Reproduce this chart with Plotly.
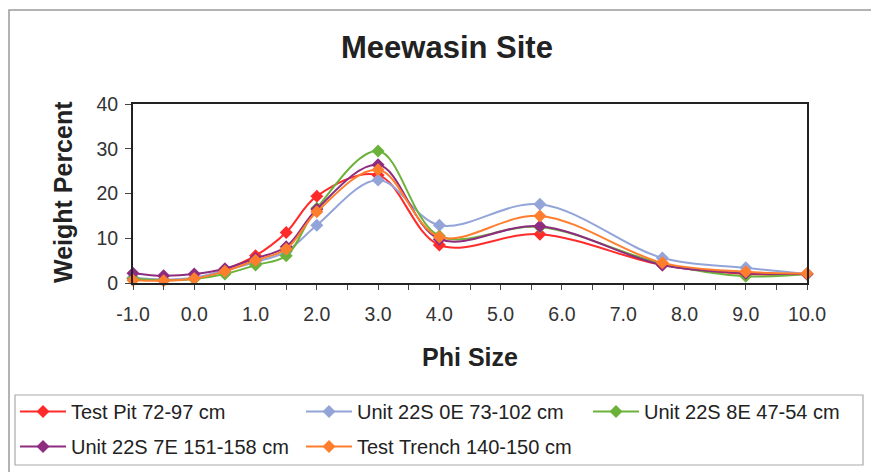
import plotly.graph_objects as go

phi = [-1.0, -0.5, 0.0, 0.5, 1.0, 1.5, 2.0, 3.0, 4.0, 5.64, 7.64, 9.0, 10.0]
test_pit = [1.0, 0.7, 1.0, 3.0, 6.1, 11.3, 19.4, 24.1, 8.5, 10.9, 4.0, 2.0, 2.0]
unit_0e = [1.2, 0.8, 1.2, 2.8, 4.7, 7.0, 12.9, 23.0, 12.9, 17.6, 5.6, 3.4, 2.0]
unit_8e = [1.0, 0.6, 0.9, 2.0, 4.0, 6.1, 16.7, 29.5, 10.5, 12.5, 4.3, 1.5, 2.0]
unit_7e = [2.2, 1.6, 2.0, 3.2, 5.5, 8.1, 16.5, 26.4, 9.8, 12.7, 4.0, 2.2, 2.0]
test_trench = [0.6, 0.5, 1.0, 2.6, 5.1, 7.6, 15.9, 25.3, 10.3, 15.0, 4.5, 2.5, 2.1]

names = ["Test Pit 72-97 cm", "Unit 22S 0E 73-102 cm", "Unit 22S 8E 47-54 cm",
         "Unit 22S 7E 151-158 cm", "Test Trench 140-150 cm"]
series = [test_pit, unit_0e, unit_8e, unit_7e, test_trench]
colors = ["#FF2B2B", "#93A4D8", "#6CB23A", "#8E2C80", "#FF7E2E"]
legend_of = ["legend", "legend2", "legend3", "legend", "legend2"]

x_ticks = [-1, 0, 1, 2, 3, 4, 5, 6, 7, 8, 9, 10]
x_ticklabels = [f"{v:.1f}" for v in x_ticks]
y_ticks = [0, 10, 20, 30, 40]

W, H = 871, 472
L, R, T, B = 133, 64, 104, 189
pw, ph = W - L - R, H - T - B

def px_x(p):
    return (p - L) / pw

def px_y(p):
    return (H - B - p) / ph

FONT = "Liberation Sans, Arial, sans-serif"

fig = go.Figure()
for i, (n, s, c, lg) in enumerate(zip(names, series, colors, legend_of)):
    fig.add_trace(go.Scatter(
        x=phi, y=s, name=n, mode="lines+markers",
        line=dict(color=c, width=2, shape="spline", smoothing=1.0),
        marker=dict(symbol="diamond", size=10, color=c),
        cliponaxis=False, legend=lg, legendgroup=f"g{i}",
    ))

def leg(xpx):
    return dict(
        orientation="v", xref="container", yref="container",
        x=xpx / W, y=1 - 392 / H, xanchor="left", yanchor="top",
        font=dict(size=20, family=FONT, color="#222"),
        borderwidth=0, bgcolor="rgba(0,0,0,0)",
        tracegroupgap=6, itemwidth=46, traceorder="grouped",
    )

fig.update_layout(
    width=W, height=H,
    margin=dict(l=L, r=R, t=T, b=B, autoexpand=False),
    paper_bgcolor="white", plot_bgcolor="white",
    font=dict(family=FONT, color="#222"),
    showlegend=True,
    legend=leg(15), legend2=leg(301), legend3=leg(588),
    xaxis=dict(
        range=[-1, 10], tickvals=x_ticks, ticktext=x_ticklabels,
        ticks="outside", ticklen=5, tickcolor="#444",
        minor=dict(dtick=0.5, tick0=-1, ticks="outside", ticklen=5, tickcolor="#444"),
        showline=True, linecolor="#222", linewidth=2, mirror=True,
        showgrid=False, zeroline=False,
        tickfont=dict(size=19.5, color="#333"), ticklabelstandoff=8,
        title=dict(text="<b>Phi Size</b>", font=dict(size=25, color="#222"), standoff=24),
    ),
    yaxis=dict(
        range=[0, 40], tickvals=y_ticks,
        ticks="outside", ticklen=6, tickcolor="#444",
        showline=True, linecolor="#222", linewidth=2, mirror=True,
        showgrid=False, zeroline=False,
        tickfont=dict(size=19.5, color="#333"), ticklabelstandoff=3,
    ),
    shapes=[
        dict(type="rect", xref="paper", yref="paper", layer="below",
             x0=px_x(9), x1=px_x(W + 10), y0=px_y(H + 10), y1=px_y(10),
             line=dict(color="#9a9a9a", width=1.5), fillcolor="rgba(0,0,0,0)"),
        dict(type="rect", xref="paper", yref="paper", layer="below",
             x0=px_x(15), x1=px_x(863), y0=px_y(465), y1=px_y(395),
             line=dict(color="#aaaaaa", width=1.2), fillcolor="rgba(0,0,0,0)"),
    ],
    annotations=[
        dict(text="<b>Meewasin Site</b>", xref="paper", yref="paper",
             x=px_x(447), y=px_y(47), xanchor="center", yanchor="middle",
             showarrow=False, font=dict(size=31, color="#222", family=FONT)),
        dict(text="<b>Weight Percent</b>", xref="paper", yref="paper",
             x=px_x(63), y=px_y(192), xanchor="center", yanchor="middle",
             textangle=-90, showarrow=False,
             font=dict(size=25, color="#222", family=FONT)),
    ],
)

fig.write_html("out.html")
